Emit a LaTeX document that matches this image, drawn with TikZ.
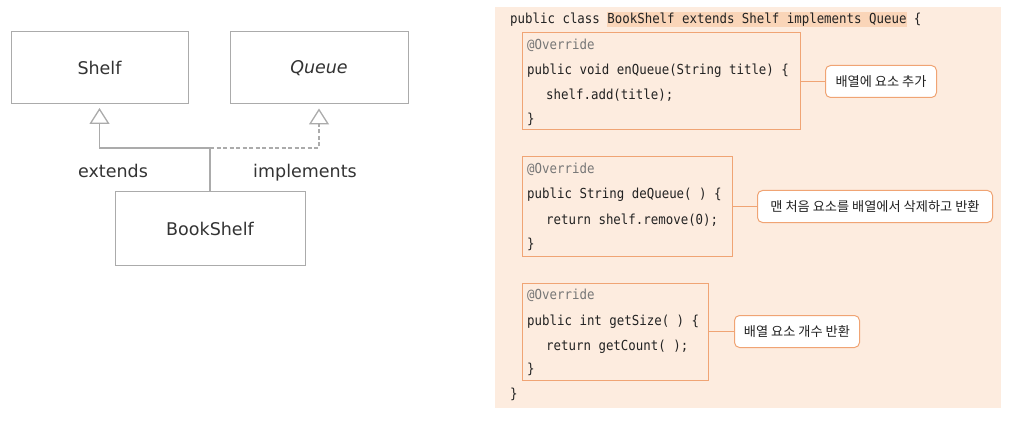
\documentclass[tikz,border=0pt]{standalone}
\usepackage{fontspec}
\setmainfont{DejaVu Sans}
\newfontfamily\umlfont{DejaVu Sans}
\newfontfamily\codefont[FakeStretch=0.9]{DejaVu Sans Mono}
\newfontfamily\krfont{Noto Sans CJK KR}
\usetikzlibrary{arrows.meta}
\definecolor{umltext}{HTML}{333333}
\definecolor{umlline}{HTML}{ABABAB}
\definecolor{peach}{HTML}{FDECDF}
\definecolor{hl}{HTML}{FAD5B8}
\definecolor{orangeline}{HTML}{F0A474}
\definecolor{codetext}{HTML}{222222}
\definecolor{anno}{HTML}{777777}
\begin{document}
\begin{tikzpicture}[x=1pt,y=-1pt,
  umlbox/.style={draw=umlline, line width=1pt, fill=white, inner sep=0pt, text=umltext,
    font=\umlfont\fontsize{17.5}{20}\selectfont},
  umllabel/.style={anchor=base, inner sep=0pt, text=umltext, font=\umlfont\fontsize{17.5}{20}\selectfont},
  umlconn/.style={draw=umlline, line width=1.3pt, shorten >=4pt,
    -{Triangle[open, width=20pt, length=16pt, line width=1.3pt]}},
  codebox/.style={draw=orangeline, line width=1pt, inner sep=0pt},
  codeline/.style={anchor=base west, inner sep=0pt, text=codetext, font=\codefont\fontsize{13.8}{16}\selectfont},
  annoline/.style={codeline, text=anno},
  callout/.style={draw=orangeline, line width=1pt, fill=white, rounded corners=5pt,
    inner xsep=4pt, minimum height=32pt, text=codetext, font=\krfont\fontsize{13.2}{15}\selectfont},
  calloutlink/.style={draw=orangeline, line width=1pt}
]
\useasboundingbox (0,0) rectangle (1018,425);

% ---------- UML diagram ----------
\node[umlbox, minimum width=177pt, minimum height=72pt] (shelf) at (99.5,67.5) {Shelf};
\node[umlbox, minimum width=178pt, minimum height=72pt] (queue) at (319,68) {\itshape Queue};
\node[umlbox, minimum width=190pt, minimum height=73pt] (bookshelf) at (210,228.5) {BookShelf};
\coordinate (j) at (210,148);
\draw[umlconn] (bookshelf.north) -- (j) -| (shelf.south);
\draw[umlconn, dash pattern=on 4pt off 2.5pt] (j) -| (queue.south);
\node[umllabel] (ext) at (113,178) {extends};
\node[umllabel] (impl) at (305,178) {implements};

% ---------- code panel ----------
\fill[peach] (495,7) rectangle (1001,408);
\setlength{\fboxsep}{0pt}
\node[codeline] (l0) at (510,24) {public class \colorbox{hl}{\rule[-3.5pt]{0pt}{15.5pt}BookShelf extends Shelf implements Queue} \{};

\node[codebox, minimum width=278pt, minimum height=97pt] (b1) at (661,81.5) {};
\node[annoline] (a1) at (527,50) {@Override};
\node[codeline] (m1) at (527,75) {public void enQueue(String title) \{};
\node[codeline] (s1) at (546,100) {shelf.add(title);};
\node[codeline] (e1) at (527,124) {\}};
\node[callout, anchor=west, minimum width=111pt] (c1) at (825,81.5) {배열에 요소 추가};
\draw[calloutlink] (b1.east) -- (c1.west);

\node[codebox, minimum width=210pt, minimum height=99pt] (b2) at (627,206.5) {};
\node[annoline] (a2) at (527,174) {@Override};
\node[codeline] (m2) at (527,199) {public String deQueue( ) \{};
\node[codeline] (s2) at (546,224) {return shelf.remove(0);};
\node[codeline] (e2) at (527,248) {\}};
\node[callout, anchor=west, minimum width=235pt] (c2) at (757,206.5) {맨 처음 요소를 배열에서 삭제하고 반환};
\draw[calloutlink] (b2.east) -- (c2.west);

\node[codebox, minimum width=186pt, minimum height=97pt] (b3) at (615,331.5) {};
\node[annoline] (a3) at (527,299) {@Override};
\node[codeline] (m3) at (527,325) {public int getSize( ) \{};
\node[codeline] (s3) at (546,350) {return getCount( );};
\node[codeline] (e3) at (527,373) {\}};
\node[callout, anchor=west, minimum width=125pt] (c3) at (734,331.5) {배열 요소 개수 반환};
\draw[calloutlink] (b3.east) -- (c3.west);

\node[codeline] (l9) at (510,398) {\}};
\end{tikzpicture}
\end{document}
